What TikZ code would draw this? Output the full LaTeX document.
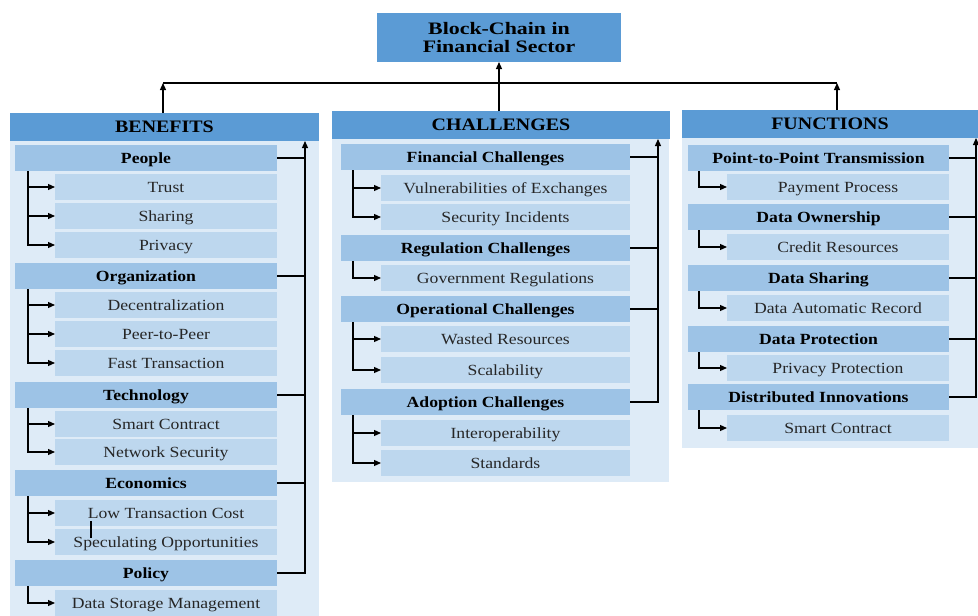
\documentclass[tikz,border=0pt]{standalone}
\usepackage{fontspec}
\setmainfont{Liberation Serif}[FakeStretch=1.14]
\newfontfamily\rootfont{Liberation Serif}[FakeStretch=1.25]
\usetikzlibrary{arrows.meta}

\definecolor{hdr}{HTML}{5B9BD5}
\definecolor{grpc}{HTML}{9DC3E6}
\definecolor{itmc}{HTML}{BDD7EE}
\definecolor{panc}{HTML}{DEEBF7}

% rectangle node given by its corners: style, name, x1, y1, x2, y2, text
\newcommand\rbox[7]{%
  \node[#1, minimum width={(#5-#3)*1pt}, minimum height={(#6-#4)*1pt}]
    (#2) at ({(#3+#5)/2},{(#4+#6)/2}) {#7};}

\tikzset{
  base/.style={inner sep=0pt, outer sep=0pt, draw=none},
  topbox/.style={base, fill=hdr, align=center,
    font=\rootfont\bfseries\fontsize{17.5}{18.5}\selectfont},
  headbox/.style={base, fill=hdr, text height=14pt, text depth=3.5pt,
    font=\bfseries\fontsize{17.5}{20}\selectfont},
  panel/.style={base, fill=panc},
  grpbox/.style={base, fill=grpc, text height=13pt, text depth=2.5pt,
    font=\bfseries\fontsize{15.5}{18}\selectfont},
  itembox/.style={base, fill=itmc, text=black!85, text height=13pt, text depth=2.5pt,
    font=\fontsize{15.5}{18}\selectfont},
  wire/.style={line width=1.2pt, black},
  arr/.style={wire, -{Triangle[length=7pt,width=6pt]}},
}

\begin{document}
\begin{tikzpicture}[x=1pt, y=-1pt]
\useasboundingbox (0,0) rectangle (978,616);

% root
\rbox{topbox}{root}{377}{13}{621}{62}{Block-Chain in\\Financial Sector}

% column panels and headers
\rbox{panel}{benpan}{10}{141}{319}{616}{}
\rbox{headbox}{benhead}{10}{113}{319}{141}{BENEFITS}
\rbox{panel}{chalpan}{332}{139}{669}{482}{}
\rbox{headbox}{chalhead}{332}{111}{670}{139}{CHALLENGES}
\rbox{panel}{funpan}{682}{138}{978}{448}{}
\rbox{headbox}{funhead}{682}{110}{978}{138}{FUNCTIONS}

% ---------- benefits ----------
\rbox{grpbox}{people}{15}{145}{277}{171}{People}
\rbox{itembox}{trust}{55}{174}{277}{200}{Trust}
\rbox{itembox}{sharing}{55}{203}{277}{229}{Sharing}
\rbox{itembox}{privacy}{55}{232}{277}{258}{Privacy}
\rbox{grpbox}{org}{15}{263}{277}{289}{Organization}
\rbox{itembox}{decen}{55}{292}{277}{318}{Decentralization}
\rbox{itembox}{ptp}{55}{321}{277}{347}{Peer-to-Peer}
\rbox{itembox}{fast}{55}{350}{277}{376}{Fast Transaction}
\rbox{grpbox}{tech}{15}{382}{277}{408}{Technology}
\rbox{itembox}{smart}{55}{411}{277}{437}{Smart Contract}
\rbox{itembox}{netsec}{55}{439}{277}{465}{Network Security}
\rbox{grpbox}{econ}{15}{470}{277}{496}{Economics}
\rbox{itembox}{lowcost}{55}{500}{277}{526}{Low Transaction Cost}
\rbox{itembox}{spec}{55}{529}{277}{555}{Speculating Opportunities}
\rbox{grpbox}{policy}{15}{560}{277}{586}{Policy}
\rbox{itembox}{storage}{55}{590}{277}{616}{Data Storage Management}

% ---------- challenges ----------
\rbox{grpbox}{fin}{341}{144}{630}{170}{Financial Challenges}
\rbox{itembox}{vuln}{381}{175}{630}{201}{Vulnerabilities of Exchanges}
\rbox{itembox}{secinc}{381}{204}{630}{230}{Security Incidents}
\rbox{grpbox}{reg}{341}{235}{630}{261}{Regulation Challenges}
\rbox{itembox}{gov}{381}{265}{630}{291}{Government Regulations}
\rbox{grpbox}{oper}{341}{296}{630}{322}{Operational Challenges}
\rbox{itembox}{waste}{381}{326}{630}{352}{Wasted Resources}
\rbox{itembox}{scal}{381}{357}{630}{383}{Scalability}
\rbox{grpbox}{adopt}{341}{389}{630}{415}{Adoption Challenges}
\rbox{itembox}{interop}{381}{420}{630}{446}{Interoperability}
\rbox{itembox}{stand}{381}{450}{630}{476}{Standards}

% ---------- functions ----------
\rbox{grpbox}{ptpt}{688}{145}{949}{171}{Point-to-Point Transmission}
\rbox{itembox}{pay}{727}{174}{949}{200}{Payment Process}
\rbox{grpbox}{own}{688}{204}{949}{230}{Data Ownership}
\rbox{itembox}{credit}{727}{234}{949}{260}{Credit Resources}
\rbox{grpbox}{dshare}{688}{265}{949}{291}{Data Sharing}
\rbox{itembox}{autorec}{727}{295}{949}{321}{Data Automatic Record}
\rbox{grpbox}{dprot}{688}{326}{949}{352}{Data Protection}
\rbox{itembox}{privprot}{727}{355}{949}{381}{Privacy Protection}
\rbox{grpbox}{distinn}{688}{384}{949}{410}{Distributed Innovations}
\rbox{itembox}{smartc}{727}{415}{949}{441}{Smart Contract}

% ---------- top-level bus ----------
\coordinate (busL) at (163,83);
\coordinate (busR) at (837,83);
\draw[wire] (busL) -- (busR);
\draw[arr] (benhead.north -| busL) -- (busL);
\draw[arr] (funhead.north -| busR) -- (busR);
\draw[arr] (chalhead.north -| root.south) -- (root.south);

% ---------- branch connectors, benefits ----------
\coordinate (bp) at ([xshift=13pt]people.south west);
\draw[arr] (bp |- trust.west) -- (trust.west);
\draw[arr] (bp |- sharing.west) -- (sharing.west);
\draw[arr] (bp) |- (privacy.west);
\coordinate (bo) at ([xshift=13pt]org.south west);
\draw[arr] (bo |- decen.west) -- (decen.west);
\draw[arr] (bo |- ptp.west) -- (ptp.west);
\draw[arr] (bo) |- (fast.west);
\coordinate (bt) at ([xshift=13pt]tech.south west);
\draw[arr] (bt |- smart.west) -- (smart.west);
\draw[arr] (bt) |- (netsec.west);
\coordinate (be) at ([xshift=13pt]econ.south west);
\draw[arr] (be |- lowcost.west) -- (lowcost.west);
\draw[arr] (be) |- (spec.west);
\draw[wire] ([xshift=36pt,yshift=5pt]lowcost.south west) -- ([xshift=36pt,yshift=-12pt]lowcost.south west);
\coordinate (bpo) at ([xshift=13pt]policy.south west);
\draw[arr] (bpo) |- (storage.west);

\coordinate (bentop) at ([xshift=-14pt]benhead.south east);
\foreach \g in {people,org,tech,econ}
  \draw[wire] (\g.east) -- (\g.east -| bentop);
\draw[arr] (policy.east) -| (bentop);

% ---------- branch connectors, challenges ----------
\coordinate (cf) at ([xshift=12pt]fin.south west);
\draw[arr] (cf |- vuln.west) -- (vuln.west);
\draw[arr] (cf) |- (secinc.west);
\coordinate (cr) at ([xshift=12pt]reg.south west);
\draw[arr] (cr) |- (gov.west);
\coordinate (co) at ([xshift=12pt]oper.south west);
\draw[arr] (co |- waste.west) -- (waste.west);
\draw[arr] (co) |- (scal.west);
\coordinate (ca) at ([xshift=12pt]adopt.south west);
\draw[arr] (ca |- interop.west) -- (interop.west);
\draw[arr] (ca) |- (stand.west);

\coordinate (chaltop) at ([xshift=-12pt]chalhead.south east);
\foreach \g in {fin,reg,oper}
  \draw[wire] (\g.east) -- (\g.east -| chaltop);
\draw[arr] (adopt.east) -| (chaltop);

% ---------- branch connectors, functions ----------
\foreach \g/\c in {ptpt/pay,own/credit,dshare/autorec,dprot/privprot,distinn/smartc}
  \draw[arr] ([xshift=11pt]\g.south west) |- (\c.west);

\coordinate (funtop) at ([xshift=-2pt]funhead.south east);
\foreach \g in {ptpt,own,dshare,dprot}
  \draw[wire] (\g.east) -- (\g.east -| funtop);
\draw[arr] (distinn.east) -| (funtop);
\end{tikzpicture}
\end{document}
